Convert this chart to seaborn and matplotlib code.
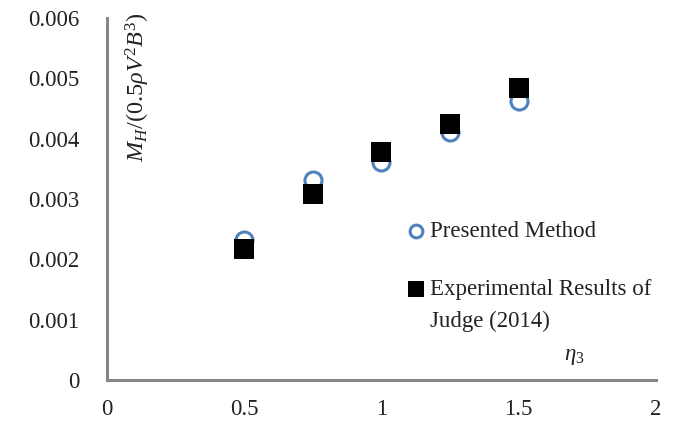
import matplotlib
matplotlib.use("Agg")
import matplotlib.pyplot as plt
import seaborn as sns
import pandas as pd

# Data
eta3 = [0.5, 0.75, 1.0, 1.25, 1.5]
presented = [0.00232, 0.00332, 0.00362, 0.00411, 0.00463]
experimental = [0.00217, 0.00308, 0.00378, 0.00425, 0.00484]
x_ticks = [0, 0.5, 1, 1.5, 2]
x_tick_labels = ["0", "0.5", "1", "1.5", "2"]
y_ticks = [0, 0.001, 0.002, 0.003, 0.004, 0.005, 0.006]
y_tick_labels = ["0", "0.001", "0.002", "0.003", "0.004", "0.005", "0.006"]
series_labels = ["Presented Method", "Experimental Results of"]
series_label_cont = "Judge (2014)"

sns.set_theme(style="white")
plt.rcParams["font.family"] = ["Liberation Serif", "DejaVu Serif"]
plt.rcParams["mathtext.fontset"] = "custom"
plt.rcParams["mathtext.rm"] = "Liberation Serif"
plt.rcParams["mathtext.it"] = "Liberation Serif:italic"

df_p = pd.DataFrame({"eta3": eta3, "val": presented})
df_e = pd.DataFrame({"eta3": eta3, "val": experimental})

fig = plt.figure(figsize=(6.79, 4.23), dpi=100)
ax = fig.add_axes([0.1576, 0.1017, 0.8084, 0.8553])

sns.scatterplot(data=df_p, x="eta3", y="val", ax=ax, marker="o", s=150,
                facecolor="white", edgecolor="#4F81BD", linewidth=2.2,
                label=series_labels[0], zorder=3)
sns.scatterplot(data=df_e, x="eta3", y="val", ax=ax, marker="s", s=220,
                color="black", edgecolor="black", linewidth=0,
                label=series_labels[1], zorder=4)

ax.set_xlim(0, 2)
ax.set_ylim(0, 0.006)
ax.set_xticks(x_ticks)
ax.set_xticklabels(x_tick_labels)
ax.set_yticks(y_ticks)
ax.set_yticklabels(y_tick_labels)
ax.set_xlabel("")
ax.set_ylabel("")

for side in ["top", "right"]:
    ax.spines[side].set_visible(False)
for side in ["left", "bottom"]:
    ax.spines[side].set_color("#868686")
    ax.spines[side].set_linewidth(2.2)
ax.tick_params(axis="both", direction="in", length=6, width=1.5,
               color="#868686", labelsize=16.5, labelcolor="#222222")
ax.tick_params(axis="y", pad=20)
ax.tick_params(axis="x", pad=14)

ax.text(0.057, 0.81, r"$M_H/(0.5\rho V^2 B^3)$", transform=ax.transAxes,
        rotation=90, ha="center", va="center", fontsize=17.5, color="#222222")
ax.text(0.852, 0.064, r"$\eta_3$", transform=ax.transAxes,
        ha="center", va="center", fontsize=16.5, color="#222222")

leg = ax.legend(loc="upper left", bbox_to_anchor=(0.522, 0.466), frameon=False,
                fontsize=16.5, handletextpad=0.0, labelspacing=1.62,
                handlelength=1.2, borderaxespad=0, markerscale=0.75)
for t in leg.get_texts():
    t.set_color("#222222")
ann = ax.annotate(series_label_cont, xy=(0, 0), xycoords=leg.get_texts()[1],
                  xytext=(0, -8), textcoords="offset points", ha="left", va="top",
                  fontsize=16.5, color="#222222", annotation_clip=False)
ann.set_zorder(10)

fig.savefig("out.png", dpi=100)
